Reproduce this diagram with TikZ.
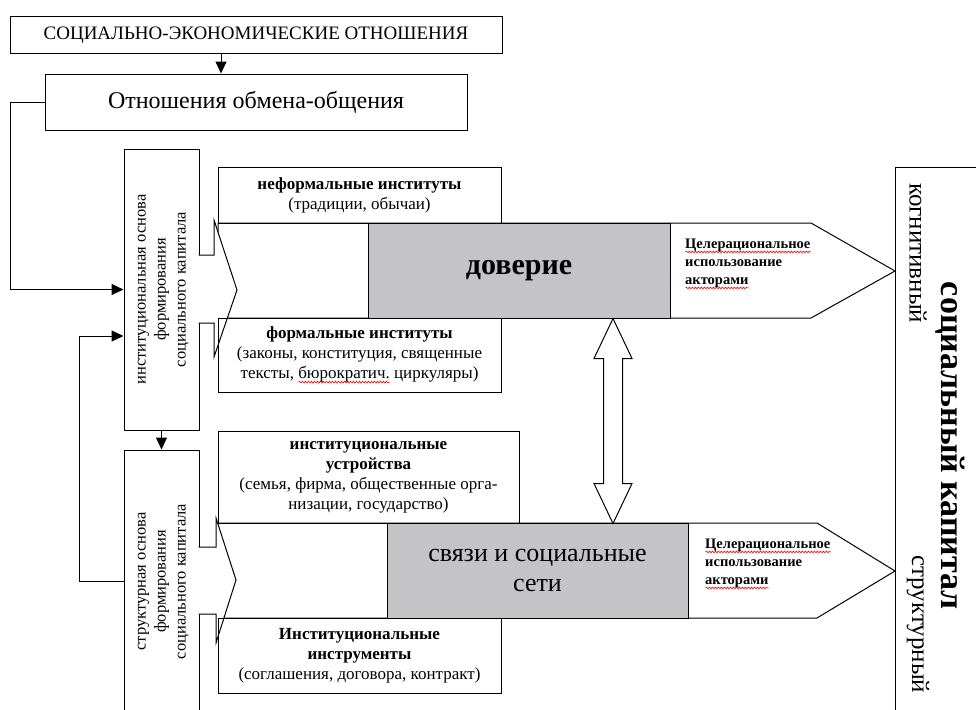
\documentclass[tikz,border=0pt]{standalone}
\usepackage{fontspec}
\setmainfont{Liberation Serif}
\usepackage{tikz}
\usetikzlibrary{arrows.meta, positioning, calc, decorations.pathmorphing}

\definecolor{coregray}{RGB}{196,195,198}

\tikzstyle{box} = [rectangle, draw=black, line width=1pt, inner sep=0pt, align=center]
\tikzstyle{inst} = [box, font=\fontsize{17}{20}\selectfont]
\tikzstyle{side} = [box, font=\fontsize{16.5}{20}\selectfont]
\tikzstyle{core} = [box, fill=coregray]
\tikzstyle{goal} = [inner sep=0pt, align=left, font=\fontsize{14.5}{18}\selectfont\bfseries]
\tikzstyle{band} = [draw=black, line width=1pt, fill=white]
\tikzstyle{arrow} = [line width=1pt, -{Triangle[length=12pt, width=11pt]}]

\newsavebox{\spellbox}
\newcommand{\spellmark}[1]{\sbox{\spellbox}{#1}\rlap{\tikz[x=1pt, y=1pt, baseline=0pt]\draw[red, line width=0.6pt, decorate, decoration={snake, amplitude=0.9pt, segment length=3pt}] (0,-3.5) -- (\wd\spellbox,-3.5);}\usebox{\spellbox}}
\newcommand{\sidetext}[1]{\rotatebox{90}{\begin{tabular}{@{}c@{}}#1\end{tabular}}}

\begin{document}
\begin{tikzpicture}[x=1pt, y=-1pt]
	\useasboundingbox (0,0) rectangle (976,709);
	\clip (0,0) rectangle (976,709);

	\node (socio) [box, font=\fontsize{19}{22}\selectfont, minimum width=492, minimum height=37] at (256,35.5) {СОЦИАЛЬНО-ЭКОНОМИЧЕСКИЕ ОТНОШЕНИЯ};
	\node (exch) [box, font=\fontsize{24}{28}\selectfont, minimum width=422, minimum height=56, below=19pt of socio] {Отношения обмена-общения};

	\node (inst) [side, minimum width=75, minimum height=281] at (161.5,289.5) {\sidetext{институциональная основа\\формирования\\социального капитала}};
	\node (struct) [side, minimum width=75, minimum height=263, below=19pt of inst] {\sidetext{структурная основа\\формирования\\социального капитала}};

	\node (capital) [box, minimum width=100, minimum height=560, anchor=north west] at (895,167) {};

	% upper band: trust
	\draw [band] (218,318) -- (218,223) -- (811,223) -- (895,271) -- (811,318) -- (218,318);
	\node (trust) [core, font=\fontsize{30}{34}\selectfont\bfseries, minimum width=302, minimum height=95] at (519,270.5) {доверие};
	\draw [band] (198.5,255) -- (214,255) -- (214,220) -- (237,290) -- (214,357) -- (214,323) -- (198.5,323);
	\node (informal) [inst, minimum width=283, minimum height=56] at (359.5,195) {\textbf{неформальные институты}\\(традиции, обычаи)};
	\node (formal) [inst, minimum width=283, minimum height=74] at (359.5,355) {\textbf{формальные институты}\\(законы, конституция, священные\\тексты, \spellmark{бюрократич.} циркуляры)};
	\node (goal1) [goal, anchor=west] at (685,264) {\spellmark{Целерациональное}\\использование\\\spellmark{акторами}};

	% lower band: ties
	\draw [band] (218,618) -- (218,523) -- (817,523) -- (895,571) -- (817,618) -- (218,618);
	\node (ties) [core, font=\fontsize{26}{30}\selectfont, minimum width=301, minimum height=95] at (537.5,570.5) {связи и социальные\\сети};
	\draw [band] (198.5,547) -- (216,547) -- (216,518) -- (236,580) -- (216,643) -- (216,614) -- (198.5,614);
	\node (devices) [inst, minimum width=301, minimum height=92] at (368.5,477) {\textbf{институциональные}\\\textbf{устройства}\\(семья, фирма, общественные орга-\\низации, государство)};
	\node (tools) [inst, minimum width=283, minimum height=75] at (359.5,655.5) {\textbf{Институциональные}\\\textbf{инструменты}\\(соглашения, договора, контракт)};
	\node (goal2) [goal, anchor=west] at (705,564) {\spellmark{Целерациональное}\\использование\\\spellmark{акторами}};

	% social capital
	\node (cogn) [font=\fontsize{25}{28}\selectfont, rotate=-90, anchor=west, inner sep=0pt] at (918,183) {когнитивный};
	\node (capname) [font=\fontsize{34}{38}\selectfont\bfseries, rotate=-90, inner sep=0pt] at (950,446) {социальный капитал};
	\node (structural) [font=\fontsize{25}{28}\selectfont, rotate=-90, anchor=west, inner sep=0pt] at (918,555) {структурный};

	\draw [arrow] ($(socio.south)+(-35,0)$) -- ($(exch.north)+(-35,0)$);
	\draw [arrow] (exch.west) -- ++(-34,0) |- (inst.west);
	\draw [arrow] (struct.west) -- ++(-44,0) |- ($(inst.west)+(0,46.5)$);
	\draw [arrow] (inst.south) -- (struct.north);
	\draw [band] ($(trust.south)+(94,0)$) -- ++(19,40) -- ++(-9.5,0) -- ++(0,125) -- ++(9.5,0) -- ++(-19,40) -- ++(-19,-40) -- ++(9.5,0) -- ++(0,-125) -- ++(-9.5,0) -- cycle;
\end{tikzpicture}
\end{document}
